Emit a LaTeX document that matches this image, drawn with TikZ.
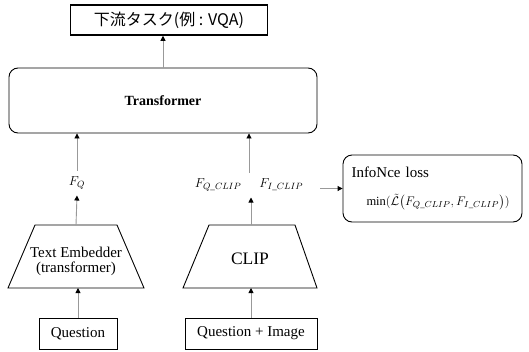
\RequirePackage{fix-cm}
\documentclass[tikz,border=0pt]{standalone}
\usepackage{amsmath, amssymb}
\usepackage{fontspec}
\setmainfont{Liberation Serif}
\newfontfamily\jpfont{Noto Sans CJK JP}
\usetikzlibrary{arrows.meta}
\usetikzlibrary{positioning}

\tikzset{
  box/.style={draw, line width=0.9pt, minimum height=31pt, inner sep=2pt},
  roundbox/.style={draw, line width=0.9pt, rounded corners=9pt},
  funnel/.style={draw, line width=0.9pt, line join=miter},
  feat/.style={inner sep=6pt, font=\fontsize{13}{15}\selectfont},
  feed/.style={draw=gray!80, line width=0.9pt, -{Triangle[length=5pt,width=5pt,black]}},
}

\begin{document}
\begin{tikzpicture}[x=1pt,y=-1pt,font=\fontsize{15}{17}\selectfont]
        \useasboundingbox (0,0) rectangle (529,351);

        \node[box, line width=1.5pt, minimum width=197pt, minimum height=30pt] (task) at (169,20) {\jpfont\fontsize{16}{18}\selectfont 下流タスク(例 : VQA)};
        \node[roundbox, minimum width=308pt, minimum height=65pt] (trans) at (163,100.5) {\fontsize{14}{16}\selectfont\bfseries Transformer};

        \node[feat] (fq) at (77,183) {$F_Q$};
        \node[feat] (fclip) at (249,185) {$F_{Q\_CLIP}$\hspace{18pt}$F_{I\_CLIP}$};

        \draw[funnel] (8,288) -- (35,225) -- (117,225) -- (144,288) -- cycle;
        \coordinate (embed top) at (76,225);
        \coordinate (embed bottom) at (76,288);
        \node[align=center, font=\fontsize{15}{15}\selectfont] (embed) at (76,261) {Text Embedder\\(transformer)};

        \draw[funnel] (183,288) -- (209,225) -- (295,225) -- (317,288) -- cycle;
        \coordinate (clip top) at (251,225);
        \coordinate (clip bottom) at (251,288);
        \node[font=\fontsize{17.5}{19}\selectfont] (clip) at (250,259) {CLIP};

        \node[box, minimum width=78pt] (q) at (78,333.5) {Question};
        \node[box, minimum width=132pt] (qi) at (251,333.5) {Question + Image};

        \node[roundbox, minimum width=179pt, minimum height=67pt, text width=162pt, align=left] (loss) at (432.5,188.5)
          {InfoNce loss\\[11pt]\hspace*{15pt}\fontsize{12.5}{14}\selectfont$\min(\tilde{\mathcal{L}}\bigl(F_{Q\_CLIP},F_{I\_CLIP}\bigr))$};

        \draw[feed] (trans.north) -- (trans.north |- task.south);
        \draw[feed] (fq.north) -- (fq.north |- trans.south);
        \draw[feed] (fclip.north) -- (fclip.north |- trans.south);
        \draw[feed] (embed top) -- (fq.south);
        \draw[feed] (clip top) -- (clip top |- fclip.south);
        \draw[feed] (q.north) -- (q.north |- embed bottom);
        \draw[feed] (qi.north) -- (qi.north |- clip bottom);
        \draw[feed, shorten <=3pt] (trans.south east |- loss.west) -- (loss.west);
\end{tikzpicture}
\end{document}
